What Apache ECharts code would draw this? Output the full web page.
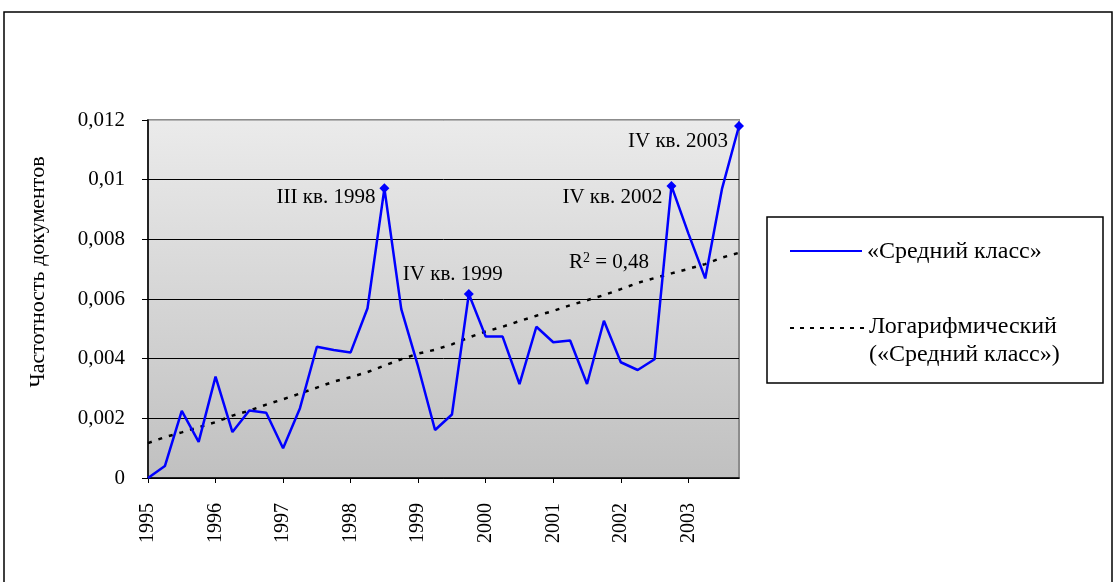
<!DOCTYPE html>
<html>
<head>
<meta charset="utf-8">
<script src="https://cdn.jsdelivr.net/npm/echarts@6/dist/echarts.min.js"></script>
<style>
  html, body { margin: 0; padding: 0; background: #fff; }
  #main { width: 1114px; height: 582px; }
</style>
</head>
<body>
<div id="main"></div>
<script>
var years = ['1995', '1996', '1997', '1998', '1999', '2000', '2001', '2002', '2003'];
var quarters = ['I', 'II', 'III', 'IV'];

// «Средний класс», по кварталам 1995 I – 2003 IV
var middleClass = [
  0, 0.0004, 0.00225, 0.00121,
  0.0034, 0.00154, 0.00226, 0.00219,
  0.001, 0.00234, 0.0044, 0.00429,
  0.00421, 0.00569, 0.00971, 0.00566,
  0.00373, 0.00161, 0.00213, 0.00617,
  0.00474, 0.00474, 0.00315, 0.00507,
  0.00455, 0.00461, 0.00315, 0.00527,
  0.00388, 0.00362, 0.00398, 0.00979,
  0.0082, 0.00669, 0.00971, 0.0118
];

// логарифмический тренд
var trend = [
  0.00117, 0.00137, 0.00153, 0.0017,
  0.00187, 0.00209, 0.00226, 0.00246,
  0.00264, 0.00283, 0.00303, 0.00323,
  0.00338, 0.00355, 0.00377, 0.00398,
  0.00417, 0.0043, 0.00448, 0.00471,
  0.00491, 0.00507, 0.00526, 0.00544,
  0.0056, 0.00579, 0.00596, 0.00613,
  0.00633, 0.00654, 0.0067, 0.00686,
  0.00701, 0.00717, 0.00739, 0.00755
];

var peaks = [
  { idx: 14, text: 'III кв. 1998' },
  { idx: 19, text: 'IV кв. 1999' },
  { idx: 31, text: 'IV кв. 2002' },
  { idx: 35, text: 'IV кв. 2003' }
];

var categories = [];
years.forEach(function (y) {
  quarters.forEach(function (q) { categories.push(y + ' ' + q); });
});

var serif = '"Liberation Serif", "DejaVu Serif", serif';

var labelPlace = {
  14: { position: 'left', distance: 4, offset: [0, 9] },
  19: { position: 'top', distance: 4, offset: [-16, 0] },
  31: { position: 'left', distance: 4, offset: [0, 12] },
  35: { position: 'left', distance: 6, offset: [0, 16] }
};

var mainData = middleClass.map(function (v, i) {
  var p = peaks.filter(function (k) { return k.idx === i; })[0];
  if (!p) return v;
  var pl = labelPlace[i];
  return {
    value: v,
    symbol: 'diamond',
    symbolSize: 10,
    label: {
      show: true,
      formatter: p.text,
      position: pl.position,
      distance: pl.distance,
      offset: pl.offset,
      color: '#000',
      fontFamily: serif,
      fontSize: 21
    }
  };
});

var myChart = echarts.init(document.getElementById('main'));

var option = {
  animation: false,
  backgroundColor: '#fff',
  grid: {
    left: 148, top: 120, right: 375, bottom: 104,
    show: true,
    borderColor: '#8c8c8c',
    borderWidth: 2,
    backgroundColor: {
      type: 'linear', x: 0, y: 0, x2: 0, y2: 1,
      colorStops: [{ offset: 0, color: '#ebebeb' }, { offset: 1, color: '#c0c0c0' }]
    }
  },
  xAxis: {
    type: 'category',
    data: categories,
    boundaryGap: false,
    axisLine: { lineStyle: { color: '#000', width: 1.5 } },
    axisTick: { interval: 3, length: 5, lineStyle: { color: '#000' } },
    axisLabel: {
      interval: 3,
      rotate: 90,
      margin: 25,
      color: '#000',
      fontFamily: serif,
      fontSize: 20,
      formatter: function (v) { return v.split(' ')[0]; }
    },
    splitLine: { show: false }
  },
  yAxis: {
    type: 'value',
    min: 0, max: 0.012, interval: 0.002,
    name: 'Частотность документов',
    nameLocation: 'middle',
    nameRotate: 90,
    nameGap: 99,
    nameTextStyle: { color: '#000', fontFamily: serif, fontSize: 22, padding: [0, 0, 0, 54] },
    axisLine: { show: true, lineStyle: { color: '#000', width: 1.5 } },
    axisTick: { show: true, length: 6, lineStyle: { color: '#000' } },
    axisLabel: {
      margin: 23,
      color: '#000',
      fontFamily: serif,
      fontSize: 21,
      formatter: function (v) { return String(+v.toFixed(4)).replace('.', ','); }
    },
    splitLine: {
      lineStyle: { color: ['#000', '#000', '#000', '#000', '#000', '#000', '#b4b4b4'], width: 1 }
    }
  },
  series: [
    {
      name: '«Средний класс»',
      type: 'line',
      data: mainData,
      symbol: 'none',
      lineStyle: { color: '#0000ff', width: 2.5 },
      itemStyle: { color: '#0000ff' },
      z: 3
    },
    {
      name: 'Логарифмический («Средний класс»)',
      type: 'line',
      data: trend,
      symbol: 'none',
      lineStyle: { color: '#000', width: 2.5, type: [4, 7] },
      z: 2
    }
  ],
  graphic: [
    {
      type: 'rect',
      shape: { x: 4, y: 12, width: 1108, height: 620 },
      style: { fill: 'none', stroke: '#000', lineWidth: 1.5 },
      silent: true
    },
    {
      type: 'text',
      left: 569, top: 251,
      style: {
        text: '{r|R}{s|2}{r| = 0,48}',
        rich: {
          r: { fontFamily: serif, fontSize: 21, fill: '#000' },
          s: { fontFamily: serif, fontSize: 14, fill: '#000', verticalAlign: 'top', padding: [0, 0, 8, 0] }
        }
      }
    },
    // легенда
    {
      type: 'rect',
      shape: { x: 767, y: 217, width: 336, height: 166 },
      style: { fill: '#fff', stroke: '#000', lineWidth: 1.5 }
    },
    {
      type: 'line',
      shape: { x1: 790, y1: 251, x2: 862, y2: 251 },
      style: { stroke: '#0000ff', lineWidth: 2 }
    },
    {
      type: 'text',
      x: 867, y: 252,
      style: { text: '«Средний класс»', fontFamily: serif, fontSize: 24, fill: '#000', verticalAlign: 'middle' }
    },
    {
      type: 'line',
      shape: { x1: 790, y1: 328, x2: 866, y2: 328 },
      style: { stroke: '#000', lineWidth: 2, lineDash: [4, 6] }
    },
    {
      type: 'text',
      x: 869, y: 327,
      style: { text: 'Логарифмический', fontFamily: serif, fontSize: 24, fill: '#000', verticalAlign: 'middle' }
    },
    {
      type: 'text',
      x: 869, y: 355,
      style: { text: '(«Средний класс»)', fontFamily: serif, fontSize: 24, fill: '#000', verticalAlign: 'middle' }
    }
  ]
};

myChart.setOption(option);

window.addEventListener('resize', function () {
  myChart.resize();
});
</script>
</body>
</html>
